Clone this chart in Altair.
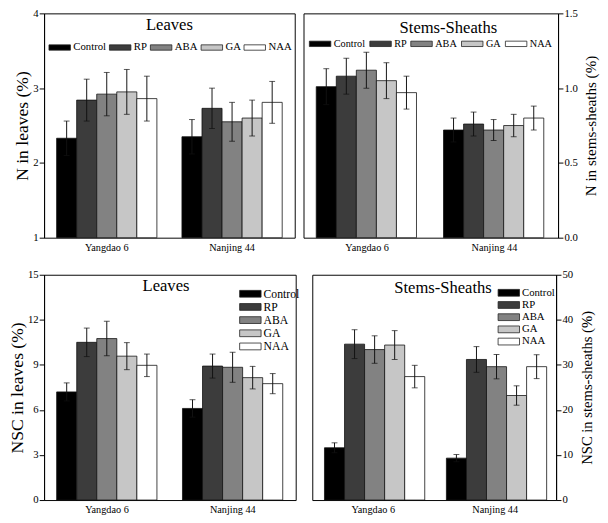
import altair as alt
import pandas as pd

cultivars = ["Yangdao 6", "Nanjing 44"]
treatments = ["Control", "RP", "ABA", "GA", "NAA"]
colors = ["#000000", "#3c3c3c", "#828282", "#c6c6c6", "#ffffff"]

# N in leaves (%)
n_leaves_y6 = [2.33, 2.84, 2.92, 2.95, 2.86]
n_leaves_y6_err = [0.23, 0.28, 0.29, 0.30, 0.30]
n_leaves_nj = [2.35, 2.73, 2.55, 2.60, 2.81]
n_leaves_nj_err = [0.23, 0.27, 0.26, 0.24, 0.28]

# N in stems-sheaths (%)
n_stems_y6 = [1.01, 1.08, 1.12, 1.05, 0.97]
n_stems_y6_err = [0.12, 0.12, 0.12, 0.12, 0.11]
n_stems_nj = [0.72, 0.76, 0.72, 0.75, 0.80]
n_stems_nj_err = [0.08, 0.08, 0.07, 0.075, 0.08]

# NSC in leaves (%)
nsc_leaves_y6 = [7.2, 10.5, 10.75, 9.58, 8.97]
nsc_leaves_y6_err = [0.6, 0.95, 1.15, 0.9, 0.75]
nsc_leaves_nj = [6.1, 8.92, 8.84, 8.15, 7.75]
nsc_leaves_nj_err = [0.58, 0.8, 1.0, 0.75, 0.67]

# NSC in stems-sheaths (%)
nsc_stems_y6 = [11.6, 34.6, 33.4, 34.4, 27.4]
nsc_stems_y6_err = [1.1, 3.2, 3.05, 3.2, 2.5]
nsc_stems_nj = [9.3, 31.2, 29.6, 23.2, 29.6]
nsc_stems_nj_err = [0.8, 2.85, 2.7, 2.15, 2.65]

SERIF = "Liberation Serif"


def make_df(y6, y6e, nj, nje, base):
    rows = []
    for cult, vals, errs in [(cultivars[0], y6, y6e), (cultivars[1], nj, nje)]:
        for t, v, e in zip(treatments, vals, errs):
            rows.append({"cultivar": cult, "treatment": t, "mean": v,
                         "lo": v - e, "hi": v + e, "base": base})
    return pd.DataFrame(rows)


def panel(df, ytitle, ydomain, yvalues, fmt, orient, ytitle_size, title,
          title_dx, title_shift, width, height, legend):
    x = alt.X("cultivar:N", sort=cultivars,
              scale=alt.Scale(paddingInner=0.2, paddingOuter=0.1),
              axis=alt.Axis(title=None, labelAngle=0, ticks=False, domain=False,
                            labelFontSize=10.5, labelPadding=5))
    xo = alt.XOffset("treatment:N", sort=treatments, scale=alt.Scale(paddingInner=0, paddingOuter=0))
    yscale = alt.Scale(domain=ydomain, nice=False, zero=False)
    right = orient == "right"
    yaxis = alt.Axis(orient=orient, values=yvalues, format=fmt, tickSize=5, grid=False,
                     title=ytitle, titleFontSize=ytitle_size, titlePadding=(7 if right else 1),
                     titleAngle=270, titleBaseline=("top" if right else "bottom"),
                     labelFontSize=11, labelPadding=1)
    color = alt.Color("treatment:N", sort=treatments,
                      scale=alt.Scale(domain=treatments, range=colors), legend=legend)
    base = alt.Chart(df)
    bars = base.mark_bar(stroke="#111111", strokeWidth=0.8).encode(
        x=x, xOffset=xo,
        y=alt.Y("mean:Q", scale=yscale, axis=yaxis),
        y2="base:Q",
        color=color)
    rule = base.mark_rule(color="#111111", strokeWidth=1).encode(
        x=x, xOffset=xo,
        y=alt.Y("lo:Q", scale=yscale, axis=yaxis), y2="hi:Q")
    cap_hi = base.mark_tick(color="#111111", size=6, thickness=1, orient="horizontal").encode(
        x=x, xOffset=xo, y=alt.Y("hi:Q", scale=yscale, axis=yaxis))
    cap_lo = base.mark_tick(color="#111111", size=6, thickness=1, orient="horizontal").encode(
        x=x, xOffset=xo, y=alt.Y("lo:Q", scale=yscale, axis=yaxis))
    return alt.layer(bars, rule, cap_hi, cap_lo).properties(
        width=width, height=height,
        title=alt.TitleParams(title, fontSize=17, font=SERIF, fontWeight="normal",
                              anchor="middle", frame="group", offset=-title_shift,
                              baseline="top", dx=title_dx))


def top_legend(lx, ly, fs, cp):
    return alt.Legend(orient="none", legendX=lx, legendY=ly, direction="horizontal",
                      title=None, symbolType="M-2,-0.5H2V0.5H-2Z", symbolSize=121,
                      symbolStrokeColor="#222222", symbolStrokeWidth=0.8,
                      labelFont=SERIF, labelFontSize=fs, labelOffset=8,
                      columnPadding=cp, padding=0)


def side_legend(lx, ly, fs):
    return alt.Legend(orient="none", legendX=lx, legendY=ly, direction="vertical",
                      title=None, symbolType="M-1.83,-0.58H1.83V0.58H-1.83Z", symbolSize=144,
                      symbolStrokeColor="#222222", symbolStrokeWidth=0.8,
                      labelFont=SERIF, labelFontSize=fs, labelOffset=7,
                      rowPadding=0.5, padding=0)


tl = panel(make_df(n_leaves_y6, n_leaves_y6_err, n_leaves_nj, n_leaves_nj_err, 1),
           "N in leaves (%)", [1, 4], [1, 2, 3, 4], "d", "left", 18,
           "Leaves", 0, 27, 257, 230, top_legend(10, 29, 11, 1))
tr = panel(make_df(n_stems_y6, n_stems_y6_err, n_stems_nj, n_stems_nj_err, 0),
           "N in stems-sheaths (%)", [0, 1.5], [0, 0.5, 1.0, 1.5], ".1f", "right", 15.5,
           "Stems-Sheaths", 18, 30, 261, 230, top_legend(11, 25, 10.5, 2))
bl = panel(make_df(nsc_leaves_y6, nsc_leaves_y6_err, nsc_leaves_nj, nsc_leaves_nj_err, 0),
           "NSC in leaves (%)", [0, 15], [0, 3, 6, 9, 12, 15], "d", "left", 18,
           "Leaves", -4, 27, 258, 231, side_legend(205, 13, 12))
br = panel(make_df(nsc_stems_y6, nsc_stems_y6_err, nsc_stems_nj, nsc_stems_nj_err, 0),
           "NSC in stems-sheaths (%)", [0, 50], [0, 10, 20, 30, 40, 50], "d", "right", 15,
           "Stems-Sheaths", 9, 29, 250, 231, side_legend(195, 12, 11))

row1 = alt.hconcat(tl, tr, spacing=7).resolve_scale(color="independent").resolve_legend(color="independent")
row2 = alt.hconcat(bl, br, spacing=11).resolve_scale(color="independent").resolve_legend(color="independent")

chart = alt.vconcat(row1, row2, spacing=15).resolve_scale(color="independent").resolve_legend(
    color="independent").properties(
    padding={"top": -8, "left": 0, "right": 0, "bottom": 0}).configure_view(
    stroke="black", strokeWidth=1).configure_axis(
    labelFont=SERIF, titleFont=SERIF, domainColor="black", tickColor="black",
    labelColor="black", titleColor="black", titleFontWeight="normal").configure_legend(
    labelFont=SERIF, labelColor="black")

chart.save("out.html", embed_options={"renderer": "svg", "actions": False})
